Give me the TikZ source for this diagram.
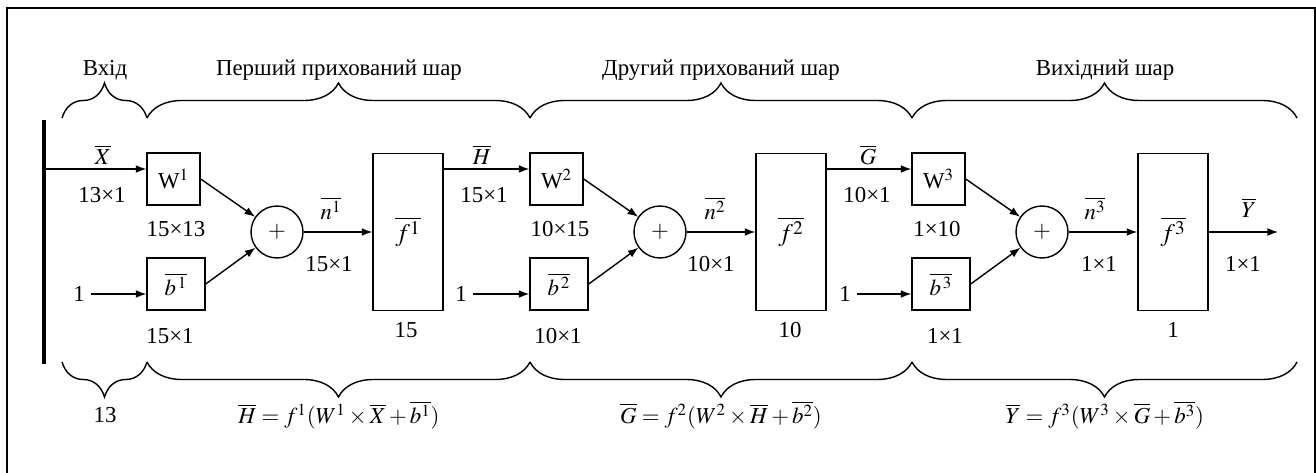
\documentclass[tikz,border=0pt]{standalone}
\usepackage{amsmath}
\usepackage{mathptmx}
\usepackage{fontspec}
\setmainfont{Liberation Serif}
\usetikzlibrary{arrows.meta, decorations.pathreplacing}

\begin{document}
\begin{tikzpicture}[x=0.02cm, y=-0.02cm, line width=0.8pt,
  every node/.style={font=\fontsize{13}{15}\selectfont},
  weightbox/.style={draw, minimum width=1.06cm, minimum height=1.04cm, inner sep=0pt},
  biasbox/.style={draw, minimum width=1.16cm, minimum height=1.04cm, inner sep=0pt},
  funcbox/.style={draw, minimum width=1.4cm, minimum height=3.14cm, inner sep=0pt},
  sumnode/.style={draw, circle, minimum size=1.04cm, inner sep=0pt},
  arr/.style={-{Latex[length=6pt, width=4.5pt]}},
  topbrace/.style={decorate, decoration={brace, amplitude=0.7cm}},
]
  \useasboundingbox (0,0) rectangle (1316,473);
  \draw (7,480) -- (7,8) -- (1315,8) -- (1315,480);

  % captions and braces on top
  \node (cin) at (105,70) {Вхід};
  \node (chid1) at (339,70) {Перший прихований шар};
  \node (chid2) at (721,70) {Другий прихований шар};
  \node (cout) at (1105,70) {Вихідний шар};
  \draw[topbrace] (62,118) -- (147,118);
  \draw[topbrace] (147,118) -- (530,118);
  \draw[topbrace] (530,118) -- (912,118);
  \draw[topbrace] (912,118) -- (1297,118);

  % input bar
  \draw[line width=2.4pt] (44,120) -- (44,364);
  \coordinate (X) at (44,169);

  % first hidden layer
  \node[weightbox] (W1) at (173.5,179) {W$^1$};
  \node[biasbox] (B1) at (176,284) {$\overline{b^{\,1}}$};
  \node[sumnode] (S1) at (277,232) {$+$};
  \node[funcbox] (F1) at (408,232) {\Large$\overline{f^{1}}$};
  \node (xlab) at (103,155) {$\overline{X}$};
  \node (xdim) at (102,195) {13×1};
  \node (one1) at (79,294) {1};
  \node (w1dim) at (176,229) {15×13};
  \node (b1dim) at (170,336) {15×1};
  \node (n1lab) at (331,208) {$\overline{n^{1}}$};
  \node (n1dim) at (329,264) {15×1};
  \node (f1dim) at (406,330) {15};
  \draw[arr] (X) -- (X -| W1.west);
  \draw[arr] (one1.east) -- (one1.east -| B1.west);
  \draw[arr] (W1.east) -- (S1);
  \draw[arr] (B1.east) -- (S1);
  \draw[arr] (S1) -- (F1);

  % second hidden layer
  \node[weightbox] (W2) at (556.5,179) {W$^2$};
  \node[biasbox] (B2) at (559,284) {$\overline{b^{\,2}}$};
  \node[sumnode] (S2) at (660,232) {$+$};
  \node[funcbox] (F2) at (791,232) {\Large$\overline{f^{2}}$};
  \node (hlab) at (482,155) {$\overline{H}$};
  \node (hdim) at (484,195) {15×1};
  \node (one2) at (461,294) {1};
  \node (w2dim) at (560,229) {10×15};
  \node (b2dim) at (558,336) {10×1};
  \node (n2lab) at (715,208) {$\overline{n^{2}}$};
  \node (n2dim) at (711,264) {10×1};
  \node (f2dim) at (790,330) {10};
  \draw[arr] (F1.east |- X) -- (X -| W2.west);
  \draw[arr] (one2.east) -- (one2.east -| B2.west);
  \draw[arr] (W2.east) -- (S2);
  \draw[arr] (B2.east) -- (S2);
  \draw[arr] (S2) -- (F2);

  % output layer
  \node[weightbox] (W3) at (938.5,179) {W$^3$};
  \node[biasbox] (B3) at (941,284) {$\overline{b^{\,3}}$};
  \node[sumnode] (S3) at (1042,232) {$+$};
  \node[funcbox] (F3) at (1173,232) {\Large$\overline{f^{3}}$};
  \node (glab) at (868,155) {$\overline{G}$};
  \node (gdim) at (867,195) {10×1};
  \node (one3) at (845,294) {1};
  \node (w3dim) at (937,229) {1×10};
  \node (b3dim) at (945,336) {1×1};
  \node (n3lab) at (1095,208) {$\overline{n^{3}}$};
  \node (n3dim) at (1099,264) {1×1};
  \node (f3dim) at (1173,330) {1};
  \node (ylab) at (1249,208) {$\overline{Y}$};
  \node (ydim) at (1243,264) {1×1};
  \coordinate (Yend) at (1278,232);
  \draw[arr] (F2.east |- X) -- (X -| W3.west);
  \draw[arr] (one3.east) -- (one3.east -| B3.west);
  \draw[arr] (W3.east) -- (S3);
  \draw[arr] (B3.east) -- (S3);
  \draw[arr] (S3) -- (F3);
  \draw[arr] (F3) -- (Yend);

  % braces and formulas at the bottom
  \draw[topbrace] (147,362) -- (62,362);
  \draw[topbrace] (530,362) -- (147,362);
  \draw[topbrace] (912,362) -- (530,362);
  \draw[topbrace] (1297,362) -- (912,362);
  \node (nin) at (105,415) {13};
  \node (eqh) at (339,415) {$\overline{H} = f^{1}(W^{1}\times\overline{X}+\overline{b^{1}})$};
  \node (eqg) at (721,415) {$\overline{G} = f^{2}(W^{2}\times\overline{H}+\overline{b^{2}})$};
  \node (eqy) at (1105,415) {$\overline{Y} = f^{3}(W^{3}\times\overline{G}+\overline{b^{3}})$};
\end{tikzpicture}
\end{document}
